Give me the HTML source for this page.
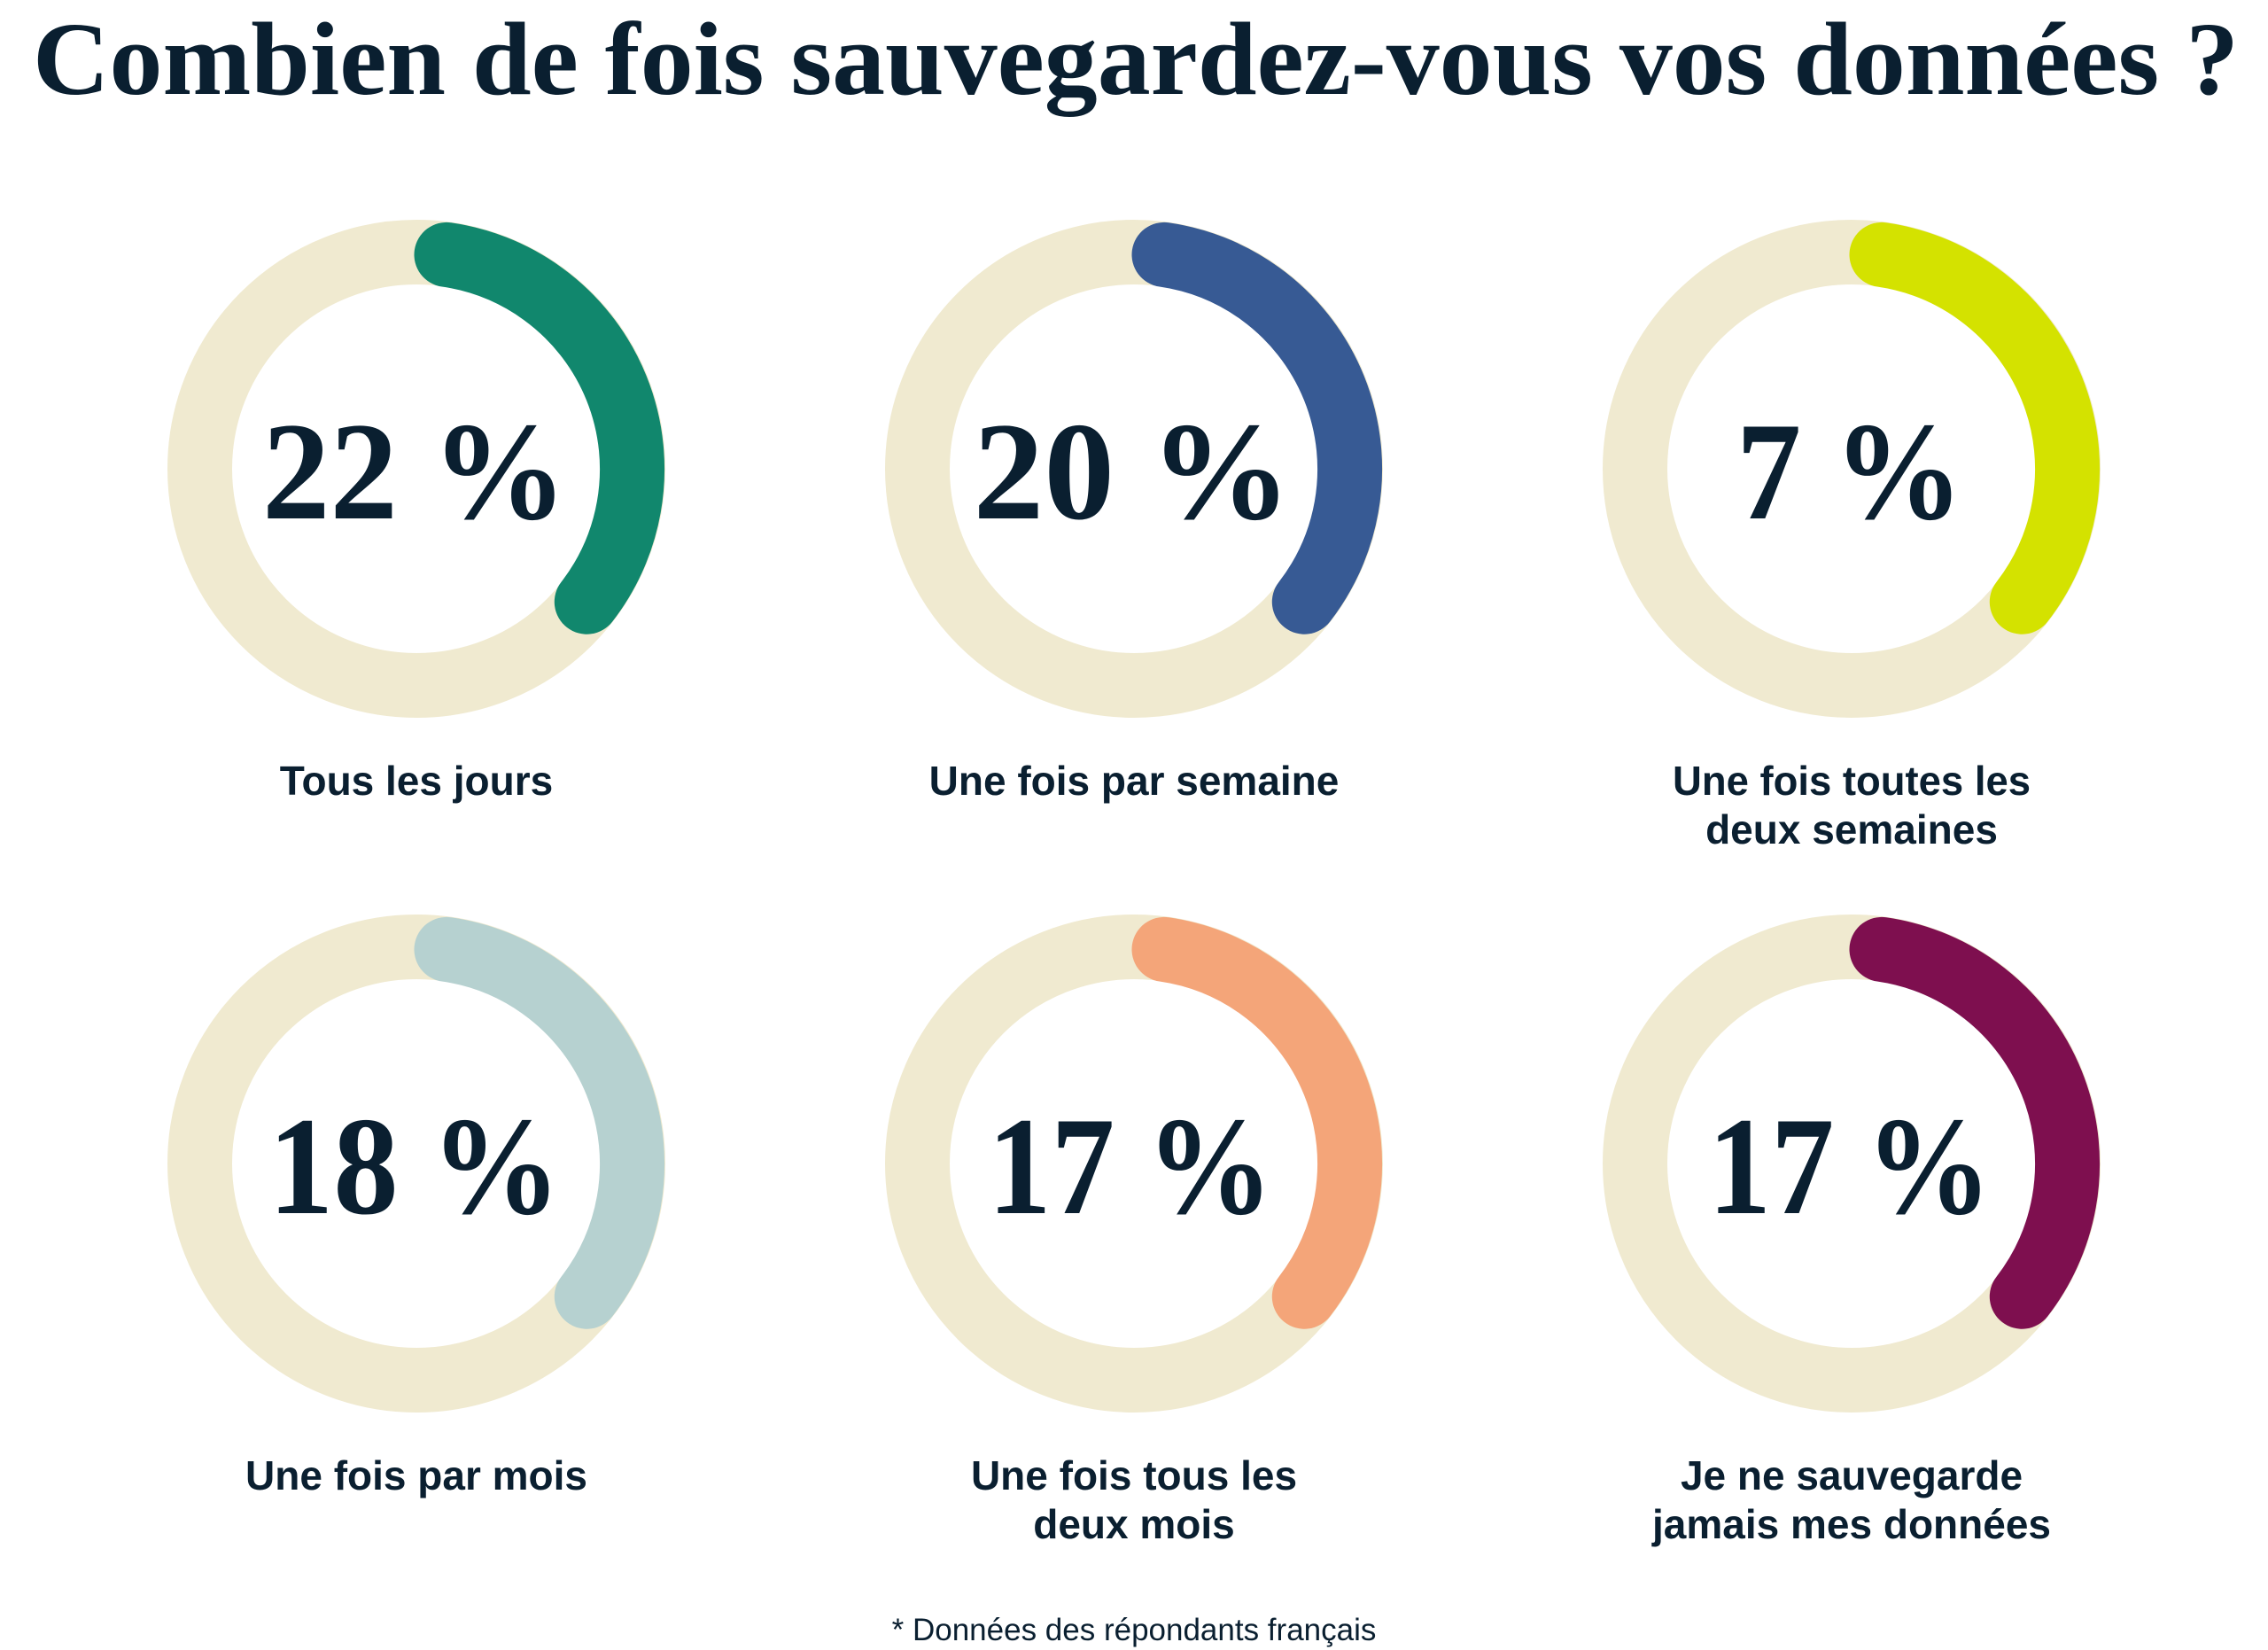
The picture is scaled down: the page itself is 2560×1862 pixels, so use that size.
<!DOCTYPE html>
<html><head><meta charset="utf-8"><style>
html,body{margin:0;padding:0;background:#fff;}
svg{display:block;}
</style></head><body>
<svg width="2560" height="1862" viewBox="0 0 2560 1862" xmlns="http://www.w3.org/2000/svg">
<defs>
<g id="ring">
<circle cx="0" cy="0" r="244.5" fill="none" stroke="#f0ead0" stroke-width="73"/>
</g>
</defs>
<text x="1282" y="106" text-anchor="middle" font-family="Liberation Serif, serif" font-weight="bold" font-size="118" fill="#0a1f30" textLength="2490" lengthAdjust="spacingAndGlyphs">Combien de fois sauvegardez-vous vos données ?</text>

<g font-family="Liberation Serif, serif" font-weight="bold" font-size="158" fill="#0a1f30" text-anchor="middle">
<use href="#ring" x="470" y="529"/>
<path d="M504,287.4 A244.5,244.5 0 0 1 662.3,679.2" fill="none" stroke="#11876d" stroke-width="73" stroke-linecap="round"/>
<text x="468" y="585" textLength="344" lengthAdjust="spacingAndGlyphs">22 %</text>

<use href="#ring" x="1280" y="529"/>
<path d="M1314,287.4 A244.5,244.5 0 0 1 1472.3,679.2" fill="none" stroke="#375a94" stroke-width="73" stroke-linecap="round"/>
<text x="1278" y="585" textLength="359" lengthAdjust="spacingAndGlyphs">20 %</text>

<use href="#ring" x="2090" y="529"/>
<path d="M2124,287.4 A244.5,244.5 0 0 1 2282.3,679.2" fill="none" stroke="#d4e200" stroke-width="73" stroke-linecap="round"/>
<text x="2088" y="585" textLength="256" lengthAdjust="spacingAndGlyphs">7 %</text>

<use href="#ring" x="470" y="1313"/>
<path d="M504,1071.4 A244.5,244.5 0 0 1 662.3,1463.2" fill="none" stroke="#b6d1d0" stroke-width="73" stroke-linecap="round"/>
<text x="468" y="1369" textLength="330" lengthAdjust="spacingAndGlyphs">18 %</text>

<use href="#ring" x="1280" y="1313"/>
<path d="M1314,1071.4 A244.5,244.5 0 0 1 1472.3,1463.2" fill="none" stroke="#f4a579" stroke-width="73" stroke-linecap="round"/>
<text x="1276" y="1369" textLength="322" lengthAdjust="spacingAndGlyphs">17 %</text>

<use href="#ring" x="2090" y="1313"/>
<path d="M2124,1071.4 A244.5,244.5 0 0 1 2282.3,1463.2" fill="none" stroke="#7e0f4f" stroke-width="73" stroke-linecap="round"/>
<text x="2088" y="1369" textLength="320" lengthAdjust="spacingAndGlyphs">17 %</text>
</g>

<g font-family="Liberation Sans, sans-serif" font-weight="bold" font-size="46" fill="#0a1f30" text-anchor="middle">
<text x="470" y="897">Tous les jours</text>
<text x="1280" y="897">Une fois par semaine</text>
<text x="2090" y="897" textLength="404" lengthAdjust="spacingAndGlyphs">Une fois toutes les</text>
<text x="2090" y="952">deux semaines</text>
<text x="470" y="1681">Une fois par mois</text>
<text x="1280" y="1681">Une fois tous les</text>
<text x="1280" y="1736">deux mois</text>
<text x="2090" y="1681">Je ne sauvegarde</text>
<text x="2090" y="1736">jamais mes données</text>
</g>
<text x="1280" y="1851" text-anchor="middle" font-family="Liberation Sans, sans-serif" font-size="35" fill="#0a1f30">* Données des répondants français</text>
</svg>
</body></html>
